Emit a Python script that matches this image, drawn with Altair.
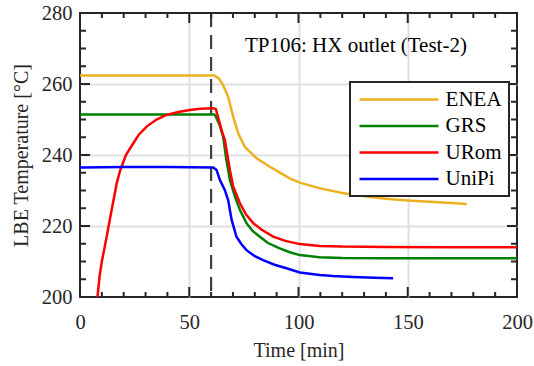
import altair as alt
import pandas as pd

# ---------------- data ----------------
series = ["ENEA", "GRS", "URom", "UniPi"]
colors = ["#EDB120", "#008000", "#FF0000", "#0000FF"]

enea_t = [0, 61.5, 63.5, 65.5, 67.8, 70.1, 72.4, 75.4, 80.8, 86.9, 96, 100.6,
          110, 120, 131, 140, 150, 160, 170, 177]
enea_T = [262.4, 262.4, 261.6, 259.7, 256.4, 250.8, 246.1, 242.3, 239.1, 236.7,
          233.4, 232.2, 230.6, 229.3, 228.3, 227.7, 227.2, 226.8, 226.5, 226.2]

grs_t = [0, 61.5, 62.2, 64, 65.5, 67, 68.6, 70.9, 73.2, 76.2, 79, 82.3, 86,
         91.4, 96, 100.6, 109.7, 120, 140, 160, 200]
grs_T = [251.4, 251.4, 250.8, 248.3, 245.2, 238.6, 233, 228.3, 224.5, 220.8,
         218.6, 217, 215.2, 213.7, 212.6, 211.8, 211.2, 211, 210.9, 210.9, 210.9]

urom_t = [8, 9, 10, 12.2, 13.7, 16.8, 18.3, 21, 24.4, 27, 30.5, 35, 39.6, 45,
          50.3, 55, 61, 62.2, 64.8, 66.3, 68.6, 70.1, 73.2, 76, 79.3, 83, 88.4,
          94, 100.6, 109.7, 120, 140, 170, 200]
urom_T = [200, 206, 210, 217, 222, 232, 235.5, 240, 243.3, 245.8, 248, 250,
          251.3, 252.1, 252.7, 253, 253.2, 252.9, 247, 244.2, 235.8, 231.1,
          226.4, 223.2, 220.8, 219, 217, 215.8, 214.9, 214.4, 214.2, 214.1,
          214, 214]

unipi_t = [0, 20, 40, 61, 62.5, 64, 64.8, 66.3, 67.8, 69.4, 71.6, 74, 76.2, 80,
           83.8, 89, 94.5, 100.6, 109.7, 115.8, 125, 135, 143.3]
unipi_T = [236.5, 236.6, 236.6, 236.5, 235.8, 233, 232, 230.1, 227.3, 221.7,
           217, 214.8, 213.2, 211.5, 210.4, 209.1, 208.1, 206.9, 206.2, 205.9,
           205.6, 205.4, 205.3]

event_t = [60]

x_label_values = [0, 50, 100, 150, 200]
y_label_values = [200, 220, 240, 260, 280]
x_minor = [10, 20, 30, 40, 60, 70, 80, 90, 110, 120, 130, 140, 160, 170, 180, 190]
x_major = [50, 100, 150]
y_minor = [205, 210, 215, 225, 230, 235, 245, 250, 255, 265, 270, 275]
y_major = [220, 240, 260]

title_text = "TP106: HX outlet (Test-2)"

# ---------------- build table ----------------
rows = []
for name, ts, Ts in zip(series, [enea_t, grs_t, urom_t, unipi_t],
                        [enea_T, grs_T, urom_T, unipi_T]):
    for i, (a, b) in enumerate(zip(ts, Ts)):
        rows.append({"series": name, "t": a, "T": b, "i": i})
df = pd.DataFrame(rows)

W, H = 437, 284
FONT = "Liberation Serif, Times New Roman, serif"
INK = "#262626"
GRID = "#e0e0e0"

xs = alt.Scale(domain=[0, 200], nice=False, zero=False)
ys = alt.Scale(domain=[200, 280], nice=False, zero=False)

x_axis = alt.Axis(title="Time [min]", values=x_label_values, ticks=False, tickSize=0,
                  domain=False, grid=True, gridColor=GRID, gridWidth=2,
                  gridOpacity={"condition": {"test": "datum.value <= 0 || datum.value >= 200",
                                             "value": 0}, "value": 1},
                  labelFont=FONT, labelFontSize=20.5, labelColor=INK, labelPadding=15,
                  labelFlush=False,
                  titleFont=FONT, titleFontSize=20, titleFontWeight="normal",
                  titleColor=INK, titlePadding=8)
y_axis = alt.Axis(title="LBE Temperature [°C]", values=y_label_values, ticks=False,
                  tickSize=0, domain=False, grid=True, gridColor=GRID, gridWidth=2,
                  gridOpacity={"condition": {"test": "datum.value <= 200 || datum.value >= 280",
                                             "value": 0}, "value": 1},
                  labelFont=FONT, labelFontSize=20.5, labelColor=INK, labelPadding=8,
                  labelFlush=False,
                  titleFont=FONT, titleFontSize=20, titleFontWeight="normal",
                  titleColor=INK, titlePadding=10)

legend = alt.Legend(title=None, orient="none", legendX=270, legendY=69,
                    symbolType="M-1.6,0H14.2", symbolSize=100, symbolStrokeWidth=2.5,
                    labelFont=FONT, labelFontSize=21, labelColor="black",
                    labelOffset=67.6, strokeColor=INK,
                    fillColor="white", padding=7, rowPadding=4.5)

lines = alt.Chart(df).mark_line(strokeWidth=2.5, clip=True).encode(
    x=alt.X("t:Q", scale=xs, axis=x_axis),
    y=alt.Y("T:Q", scale=ys, axis=y_axis),
    color=alt.Color("series:N", scale=alt.Scale(domain=series, range=colors),
                    legend=legend, sort=series),
    order="i:Q",
)

dash = alt.Chart(pd.DataFrame({"t": event_t})).mark_rule(
    color="#404040", strokeWidth=2.2, strokeDash=[14, 8]).encode(
    x=alt.X("t:Q", scale=xs, axis=x_axis))

def xticks(vals, length):
    d = pd.DataFrame({"t": vals})
    b = alt.Chart(d).mark_rule(color=INK, strokeWidth=2).encode(
        x=alt.X("t:Q", scale=xs, axis=x_axis), y=alt.value(H), y2=alt.value(H - length))
    t = alt.Chart(d).mark_rule(color=INK, strokeWidth=2).encode(
        x=alt.X("t:Q", scale=xs, axis=x_axis), y=alt.value(0), y2=alt.value(length))
    return b + t

def yticks(vals, length):
    d = pd.DataFrame({"T": vals})
    l = alt.Chart(d).mark_rule(color=INK, strokeWidth=2).encode(
        y=alt.Y("T:Q", scale=ys, axis=y_axis), x=alt.value(0), x2=alt.value(length))
    r = alt.Chart(d).mark_rule(color=INK, strokeWidth=2).encode(
        y=alt.Y("T:Q", scale=ys, axis=y_axis), x=alt.value(W), x2=alt.value(W - length))
    return l + r

chart = alt.layer(
    dash, lines,
    xticks(x_minor, 5), xticks(x_major, 10),
    yticks(y_minor, 6), yticks(y_major, 10),
).properties(
    width=W, height=H,
    title=alt.Title(title_text, anchor="start", frame="group", dx=165, dy=64,
                    offset=0, baseline="middle", font=FONT, fontSize=21,
                    fontWeight="normal", color="black"),
    padding={"left": 80, "top": 13, "right": 17, "bottom": 69},
    autosize="none",
    background="white",
).configure(font=FONT).configure_view(stroke=INK, strokeWidth=2).configure_axis(
    labelFont=FONT, titleFont=FONT).configure_legend(labelFont=FONT)

try:
    c2 = chart.configure_legend(strokeWidth=2)
    c2.to_dict()
    chart = c2
except Exception:
    pass

chart.save("out.html", embed_options={"renderer": "svg", "actions": False})
